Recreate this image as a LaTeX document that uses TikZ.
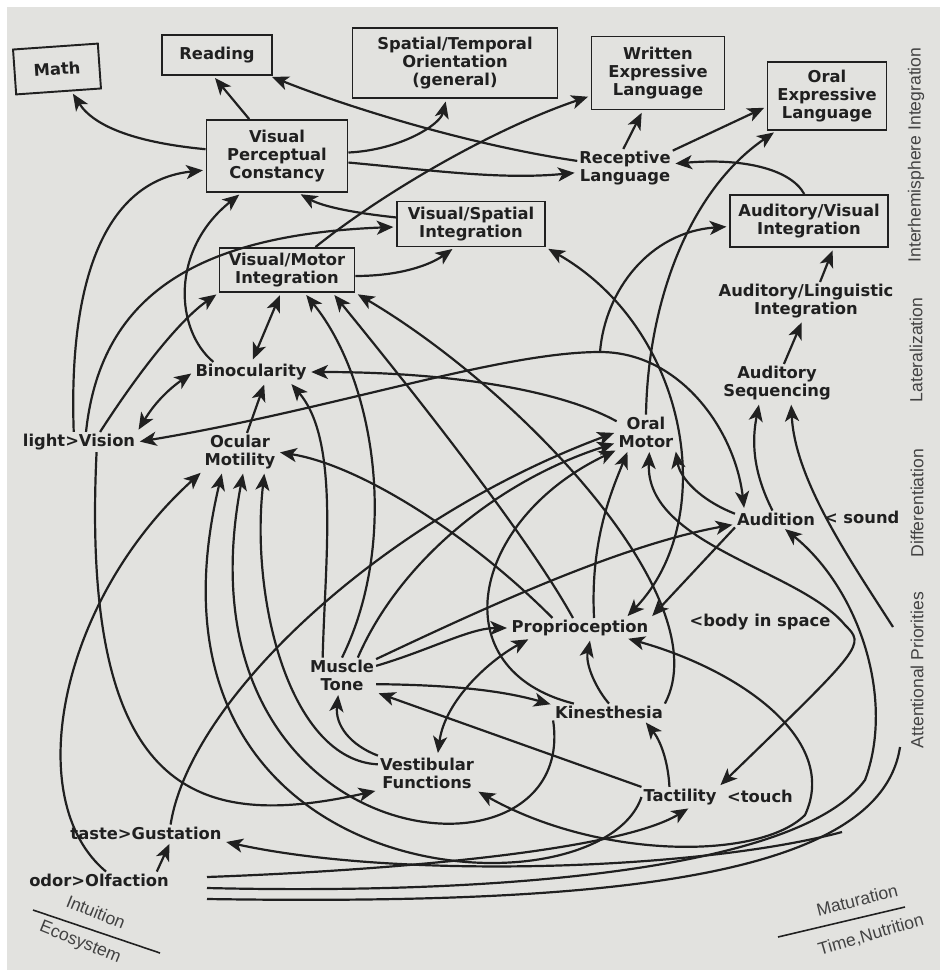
\documentclass[tikz,border=0pt]{standalone}
\usepackage{fontspec}
\setmainfont{DejaVu Sans}
\newfontfamily\sidefont{Liberation Sans}
\usetikzlibrary{arrows.meta,positioning}

\definecolor{paper}{RGB}{226,226,223}
\definecolor{ink}{RGB}{32,32,32}
\newcommand{\lblfont}{\fontsize{9.3}{10.2}\selectfont\bfseries}

\tikzset{
  box/.style={draw=ink, line width=1.1pt, inner sep=2pt, align=center, font=\lblfont, text=ink},
  lbl/.style={inner sep=1pt, align=center, font=\lblfont, text=ink},
  arr/.style={->, draw=ink, line width=1.25pt, shorten >=1.5pt},
  darr/.style={arr, <->, shorten <=1.5pt},
  plain/.style={draw=ink, line width=1.25pt},
  side/.style={rotate=90, font=\sidefont\fontsize{10}{12}\selectfont, text=ink!85},
  foot/.style={inner sep=0pt, font=\sidefont\fontsize{10}{12}\selectfont, text=ink!85},
}

\begin{document}
\begin{tikzpicture}[x=0.02cm, y=-0.02cm, >={Stealth[length=9.5pt,width=8pt,inset=2.5pt]}]
    % paper
    \fill[white] (0,0) rectangle (940,970);
    \fill[paper] (7,7) rectangle (940,970);
    \useasboundingbox (0,0) rectangle (940,970);

    % top boxes
    \node[box, rotate=4, minimum width=1.7cm, minimum height=0.9cm] (math) at (57,69) {Math};
    \node[box, minimum width=2.2cm, minimum height=0.8cm] (reading) at (217,55) {Reading};
    \node[box, minimum width=4.1cm, minimum height=1.4cm] (spatial) at (455,63) {Spatial/Temporal\\Orientation\\(general)};
    \node[box, minimum width=2.66cm, minimum height=1.46cm] (written) at (658,73) {Written\\Expressive\\Language};
    \node[box, minimum width=2.38cm, minimum height=1.36cm] (oralexp) at (827,96) {Oral\\Expressive\\Language};
    \node[box, minimum width=2.82cm, minimum height=1.44cm] (vpc) at (277,156) {Visual\\Perceptual\\Constancy};
    \node[lbl] (recept) at (625,168) {Receptive\\Language};
    \node[box, minimum width=2.96cm, minimum height=0.9cm] (visspat) at (471,224) {Visual/Spatial\\Integration};
    \node[box, minimum width=3.16cm, minimum height=1.04cm] (audvis) at (809,221) {Auditory/Visual\\Integration};
    \node[box, minimum width=2.7cm, minimum height=0.88cm] (vismot) at (287,270) {Visual/Motor\\Integration};

    % middle labels
    \node[lbl] (audling) at (806,301) {Auditory/Linguistic\\Integration};
    \node[lbl] (binoc) at (251,372) {Binocularity};
    \node[lbl] (audseq) at (777,383) {Auditory\\Sequencing};
    \node[lbl] (vision) at (79,442) {light>Vision};
    \node[lbl] (ocular) at (240,452) {Ocular\\Motility};
    \node[lbl] (oralmot) at (646,432) {Oral\\Motor};
    \node[lbl] (audition) at (776,519) {Audition};
    \node[lbl, anchor=west] (sound) at (822,517) {< sound};

    % sensory labels
    \node[lbl] (propr) at (580,628) {Proprioception};
    \node[lbl] (body) at (760,622) {<body in space};
    \node[lbl] (muscle) at (342,675) {Muscle\\Tone};
    \node[lbl] (kines) at (609,712) {Kinesthesia};
    \node[lbl] (vestib) at (427,773) {Vestibular\\Functions};
    \node[lbl] (tactil) at (680,797) {Tactility};
    \node[lbl] (touch) at (760,796) {<touch};
    \node[lbl] (gust) at (146,833) {taste>Gustation};
    \node[lbl] (olf) at (99,880) {odor>Olfaction};

    % levels on the right
    \node[side] (interh) at (916,155) {Interhemisphere Integration};
    \node[side] (later) at (916,350) {Lateralization};
    \node[side] (differ) at (917,503) {Differentiation};
    \node[side] (attn) at (917,670) {Attentional Priorities};

    % bottom corners
    \draw[draw=ink, line width=0.9pt] (33,910) -- (160,953);
    \node[foot, rotate=-22] (intuit) at (96,912) {Intuition};
    \node[foot, rotate=-22] (ecosys) at (80,943) {Ecosystem};
    \draw[draw=ink, line width=0.9pt] (778,937) -- (905,907);
    \node[foot, rotate=14] (matur) at (857,900) {Maturation};
    \node[foot, rotate=16] (timenut) at (871,935) {Time,Nutrition};

    % free ends
    \coordinate (avsplit) at (600,352);
    \coordinate (attA) at (893,627);
    \coordinate (attB) at (900,747);
    \coordinate (gsrc) at (842,832);
    \coordinate (b1) at (207,877);
    \coordinate (b2) at (207,888);
    \coordinate (b3) at (207,899);

    % integration
    \draw[arr] (vpc) .. controls (140,143) and (95,128) .. (math);
    \draw[arr] (vpc.127) -- (reading.-100);
    \draw[arr] (recept) .. controls (470,145) and (350,108) .. (reading);
    \draw[arr] (vpc) .. controls (400,150) and (440,125) .. (spatial);
    \draw[arr] (vpc) .. controls (430,170) and (500,180) .. (recept);
    \draw[arr] (vismot) .. controls (380,195) and (490,130) .. (written);
    \draw[arr] (recept.95) -- (written.-112);
    \draw[arr] (recept.20) -- (oralexp.190);
    \draw[arr] (oralmot.north) .. controls (648,300) and (690,190) .. (oralexp);
    \draw[arr] (audvis.100) .. controls (790,168) and (740,158) .. (recept);
    \draw[arr] (avsplit) .. controls (605,290) and (650,232) .. (audvis);
    \draw[arr] (visspat.175) .. controls (345,212) and (320,205) .. (vpc.-60);

    % vision
    \draw[arr] ([xshift=-3pt]vision.north) .. controls (68,270) and (110,180) .. ([yshift=-8pt]vpc.west);
    \draw[arr] ([xshift=4pt]vision.north) .. controls (100,300) and (190,235) .. (visspat);
    \draw[arr] ([xshift=12pt]vision.north) .. controls (140,370) and (180,320) .. (vismot.south west);
    \draw[arr] (vismot.-5) .. controls (400,276) and (430,265) .. (visspat.-125);
    \draw[arr] (binoc.165) .. controls (175,330) and (170,250) .. (vpc.-134);
    \draw[darr] (binoc.85) -- (vismot.-105);
    \draw[darr] (vision.north east) to[bend left=12] (binoc.west);
    \draw[arr] ([xshift=4pt]ocular.north) -- ([xshift=8pt]binoc.south);
    \draw[darr] (vision.east) .. controls (330,410) and (500,352) .. (avsplit) .. controls (680,352) and (735,430) .. ([xshift=-18pt]audition.north);

    % into visual/motor and binocularity
    \draw[arr] ([xshift=-11pt]muscle.north) .. controls (325,560) and (340,440) .. ([xshift=22pt]binoc.south);
    \draw[arr] (muscle.north) .. controls (400,540) and (375,380) .. ([xshift=10pt]vismot.south);
    \draw[arr] ([xshift=-4pt]propr.north) .. controls (530,540) and (420,400) .. ([xshift=26pt]vismot.south);
    \draw[arr] (kines.north east) .. controls (720,600) and (520,390) .. (vismot.south east);
    \draw[arr] (oralmot.160) .. controls (560,390) and (450,372) .. (binoc.east);
    \draw[arr] (propr.160) .. controls (470,535) and (360,465) .. (ocular.east);
    \draw[darr] (visspat.south east) .. controls (690,330) and (720,520) .. ([xshift=26pt]propr.north);

    % oral motor and audition
    \draw[arr] ([xshift=8pt]propr.north) .. controls (590,540) and (612,490) .. ([xshift=-10pt]oralmot.south);
    \draw[darr] ([xshift=2pt]oralmot.south) .. controls (645,545) and (800,570) .. (845,625) .. controls (865,645) .. (tactil.north east);
    \draw[arr] ([yshift=3pt]audition.west) .. controls (700,500) and (680,478) .. (oralmot.-30);
    \draw[arr] (audition.south west) -- (propr.north east);
    \draw[arr] ([xshift=-2pt]audition.north) .. controls (752,470) and (752,440) .. ([xshift=-10pt]audseq.south);
    \draw[arr] (attA) .. controls (850,560) and (795,480) .. ([xshift=8pt]audseq.south);
    \draw[arr] (audseq.70) -- (audling.-100);
    \draw[arr] ([xshift=8pt]audling.north) -- ([xshift=14pt]audvis.south);

    % muscle tone, kinesthesia, vestibular
    \draw[arr] (muscle.15) .. controls (430,650) and (470,628) .. (propr.west);
    \draw[arr] (muscle.-15) .. controls (450,685) and (500,690) .. ([yshift=4pt]kines.west);
    \draw[arr] (tactil.north west) -- (muscle.south east);
    \draw[arr] (vestib.north west) .. controls (350,745) and (335,725) .. ([xshift=-2pt]muscle.south);
    \draw[darr] ([xshift=6pt]vestib.north) .. controls (445,700) and (490,660) .. ([xshift=12pt]propr.south west);
    \draw[arr] (kines.north) .. controls (597,690) and (585,665) .. ([xshift=6pt]propr.south);
    \draw[arr] ([xshift=-6pt]tactil.north) .. controls (668,760) and (660,740) .. ([xshift=20pt]kines.south);
    \draw[arr] ([xshift=-20pt]kines.north) .. controls (440,670) and (470,520) .. ([xshift=-16pt]oralmot.south);
    \draw[arr] ([xshift=9pt]muscle.north) .. controls (400,560) and (500,480) .. (oralmot.200);
    \draw[arr] (muscle.25) .. controls (480,610) and (620,545) .. ([yshift=-3pt]audition.west);

    % taste, smell, light
    \draw[arr] ([xshift=14pt]gust.north) .. controls (190,700) and (380,520) .. (oralmot.west);
    \draw[arr] ([xshift=4pt]olf.north) .. controls (20,800) and (60,600) .. (ocular.south west);
    \draw[arr] ([xshift=-8pt]olf.north east) -- ([xshift=14pt]gust.south);
    \draw[arr] ([xshift=10pt]vision.south) .. controls (80,800) and (200,830) .. (vestib.south west);

    % arcs into ocular motility
    \draw[arr] (vestib.170) .. controls (290,760) and (250,600) .. ([xshift=14pt]ocular.south);
    \draw[arr] (kines.south west) .. controls (580,900) and (170,860) .. ([xshift=2pt]ocular.south);
    \draw[arr] (tactil.west) .. controls (600,920) and (120,900) .. ([xshift=-10pt]ocular.south);

    % bottom bundle
    \draw[arr] (b1) .. controls (400,870) and (620,850) .. ([xshift=6pt]tactil.south);
    \draw[arr] (b2) .. controls (500,895) and (800,870) .. (865,780) .. controls (895,700) and (860,590) .. ([xshift=4pt]audition.south);
    \draw[plain] (b3) .. controls (600,905) and (880,880) .. (attB);
    \draw[arr] (gsrc) .. controls (700,870) and (400,880) .. (gust.south east);
    \draw[darr] (vestib.south east) .. controls (600,860) and (760,860) .. (805,815) .. controls (840,740) and (740,670) .. ([xshift=26pt]propr.south);
\end{tikzpicture}
\end{document}
